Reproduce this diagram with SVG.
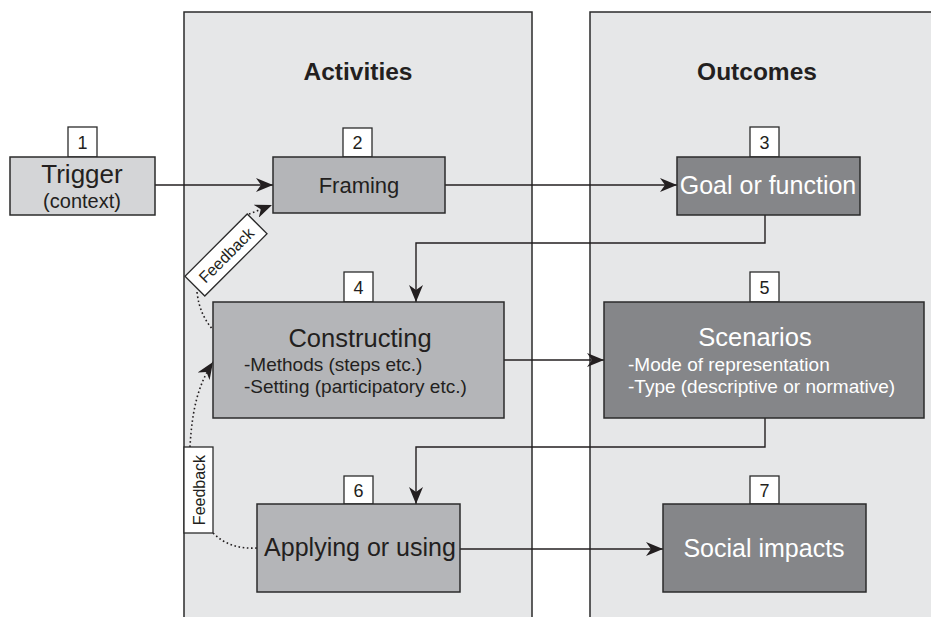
<svg xmlns="http://www.w3.org/2000/svg" width="931" height="617" viewBox="0 0 931 617">
<style>
.panel{fill:#e6e7e8;stroke:#2b2b2b;stroke-width:1.5}
.light{fill:#d4d5d7;stroke:#2b2b2b;stroke-width:1.5}
.mid{fill:#b4b5b8;stroke:#2b2b2b;stroke-width:1.5}
.dark{fill:#858689;stroke:#2b2b2b;stroke-width:1.5}
.num{fill:#ffffff;stroke:#2b2b2b;stroke-width:1.3}
text{font-family:"Liberation Sans",Arial,sans-serif;fill:#231f20}
.t{font-size:18px;text-anchor:middle}
.big{font-size:25px}
.sm{font-size:19px}
.fb{font-size:16px;text-anchor:middle}
.w{fill:#ffffff}
.title{font-size:24.5px;font-weight:bold;text-anchor:middle}
.c{text-anchor:middle}
.conn{fill:none;stroke:#231f20;stroke-width:1.4}
.dot{fill:none;stroke:#231f20;stroke-width:1.6;stroke-dasharray:1.6,2.6}
</style>
<defs>
<marker id="ah" markerUnits="userSpaceOnUse" markerWidth="18" markerHeight="14" refX="17" refY="7" orient="auto" viewBox="0 0 18 14">
<path d="M0,0 L17,7 L0,14 L5,7 z" fill="#231f20"/>
</marker>
</defs>
<rect class="panel" x="184" y="12" width="348" height="610"/>
<rect class="panel" x="590" y="12" width="350" height="610"/>
<text class="title" x="358" y="80">Activities</text>
<text class="title" x="757" y="80">Outcomes</text>

<g id="connectors">
<line class="conn" x1="155" y1="185" x2="273" y2="185" marker-end="url(#ah)"/>
<line class="conn" x1="445" y1="185" x2="677" y2="185" marker-end="url(#ah)"/>
<polyline class="conn" points="765,215 765,243 416,243 416,302" marker-end="url(#ah)"/>
<line class="conn" x1="504" y1="360" x2="604" y2="360" marker-end="url(#ah)"/>
<polyline class="conn" points="765,418 765,447 416,447 416,504" marker-end="url(#ah)"/>
<line class="conn" x1="460" y1="549" x2="663" y2="549" marker-end="url(#ah)"/>
<path class="dot" d="M249,214 L272,205" marker-end="url(#ah)"/>
<path class="dot" d="M197,292 C199,310 205,320 213,330"/>
<path class="dot" d="M190,447 C192,410 198,385 213,362" marker-end="url(#ah)"/>
<path class="dot" d="M213,533 C225,545 240,549 257,548"/>
</g>

<g id="fb1">
<rect x="182" y="241" width="88" height="28" fill="#ffffff" stroke="#2b2b2b" stroke-width="1.3" transform="rotate(-45 226 255)"/>
<text class="fb" x="226" y="261" transform="rotate(-45 226 255)">Feedback</text>
</g>
<g id="fb2">
<rect x="184" y="447" width="29" height="86" fill="#ffffff" stroke="#2b2b2b" stroke-width="1.3"/>
<text class="fb" x="199" y="490" transform="rotate(-90 199 490) translate(0 6)">Feedback</text>
</g>

<g id="n1">
<rect class="num" x="68" y="127" width="29" height="30"/>
<text class="t" x="82.5" y="149">1</text>
<rect class="light" x="10" y="157" width="145" height="58"/>
<text class="c" x="82" y="183" style="font-size:26px">Trigger</text>
<text class="c" x="82" y="208" style="font-size:20px">(context)</text>
</g>
<g id="n2">
<rect class="num" x="343" y="128" width="29" height="29"/>
<text class="t" x="357.5" y="149">2</text>
<rect class="mid" x="273" y="157" width="172" height="56"/>
<text class="c" x="359" y="193" style="font-size:22px">Framing</text>
</g>
<g id="n3">
<rect class="num" x="750" y="127" width="29" height="30"/>
<text class="t" x="764.5" y="149">3</text>
<rect class="dark" x="677" y="157" width="183" height="58"/>
<text class="c big w" x="768" y="194">Goal or function</text>
</g>
<g id="n4">
<rect class="num" x="344" y="272" width="29" height="30"/>
<text class="t" x="358.5" y="294">4</text>
<rect class="mid" x="213" y="302" width="291" height="116"/>
<text class="c" x="360" y="347" style="font-size:25.5px">Constructing</text>
<text class="sm" x="244" y="371">-Methods (steps etc.)</text>
<text class="sm" x="244" y="393">-Setting (participatory etc.)</text>
</g>
<g id="n5">
<rect class="num" x="750" y="272" width="29" height="30"/>
<text class="t" x="764.5" y="294">5</text>
<rect class="dark" x="604" y="302" width="320" height="116"/>
<text class="c w" x="755" y="346" style="font-size:25.5px">Scenarios</text>
<text class="sm w" x="628" y="371">-Mode of representation</text>
<text class="sm w" x="628" y="393">-Type (descriptive or normative)</text>
</g>
<g id="n6">
<rect class="num" x="344" y="476" width="29" height="28"/>
<text class="t" x="358.5" y="497">6</text>
<rect class="mid" x="257" y="504" width="203" height="88"/>
<text class="c big" x="360" y="556">Applying or using</text>
</g>
<g id="n7">
<rect class="num" x="750" y="476" width="29" height="28"/>
<text class="t" x="764.5" y="497">7</text>
<rect class="dark" x="663" y="504" width="203" height="88"/>
<text class="c big w" x="764" y="557">Social impacts</text>
</g>
</svg>
